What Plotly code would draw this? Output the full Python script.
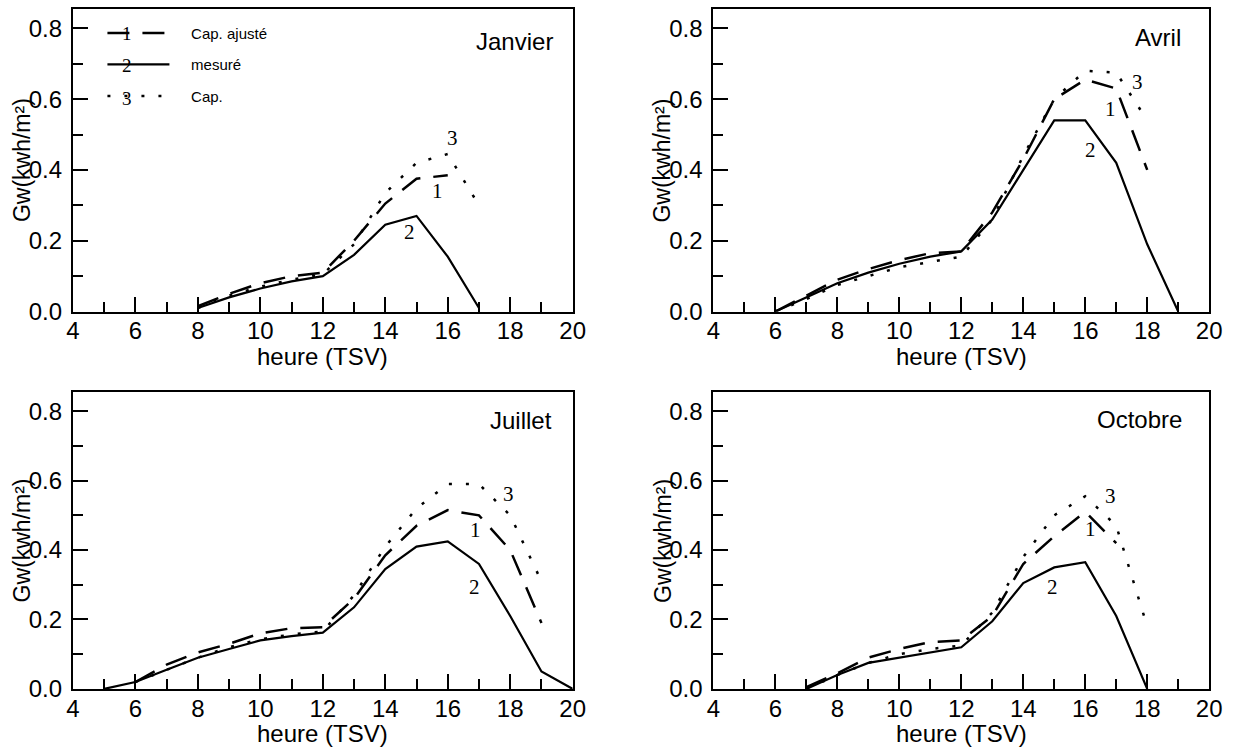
import plotly.graph_objects as go

# ---------------- data ----------------
# Janvier
jan_h_mes = [8, 9, 10, 11, 12, 13, 14, 15, 16, 17]
jan_mes = [0.01, 0.04, 0.065, 0.085, 0.10, 0.16, 0.245, 0.27, 0.155, 0.01]
jan_h_aj = [8, 9, 10, 11, 12, 13, 14, 15, 16]
jan_aj = [0.015, 0.05, 0.08, 0.10, 0.11, 0.20, 0.305, 0.375, 0.385]
jan_h_cap = [8, 9, 10, 11, 12, 13, 14, 15, 16, 17]
jan_cap = [0.01, 0.045, 0.07, 0.09, 0.105, 0.19, 0.335, 0.42, 0.445, 0.30]

# Avril
avr_h_mes = [6, 7, 8, 9, 10, 11, 12, 13, 14, 15, 16, 17, 18, 19]
avr_mes = [0.0, 0.04, 0.08, 0.11, 0.135, 0.155, 0.17, 0.26, 0.40, 0.54, 0.54, 0.42, 0.19, 0.0]
avr_h_aj = [6, 7, 8, 9, 10, 11, 12, 13, 14, 15, 16, 17, 18]
avr_aj = [0.0, 0.045, 0.09, 0.12, 0.145, 0.165, 0.17, 0.28, 0.43, 0.60, 0.655, 0.63, 0.40]
avr_h_cap = [6, 7, 8, 9, 10, 11, 12, 13, 14, 15, 16, 17, 18]
avr_cap = [0.0, 0.035, 0.075, 0.10, 0.125, 0.14, 0.155, 0.26, 0.44, 0.60, 0.68, 0.675, 0.54]

# Juillet
jul_h_mes = [5, 6, 7, 8, 9, 10, 11, 12, 13, 14, 15, 16, 17, 18, 19, 20]
jul_mes = [0.0, 0.02, 0.055, 0.09, 0.115, 0.14, 0.152, 0.162, 0.235, 0.345, 0.41, 0.425, 0.36, 0.21, 0.05, 0.0]
jul_h_aj = [6, 7, 8, 9, 10, 11, 12, 13, 14, 15, 16, 17, 18, 19]
jul_aj = [0.02, 0.07, 0.105, 0.13, 0.16, 0.175, 0.178, 0.26, 0.385, 0.47, 0.515, 0.50, 0.40, 0.19]
jul_h_cap = [6, 7, 8, 9, 10, 11, 12, 13, 14, 15, 16, 17, 18, 19]
jul_cap = [0.02, 0.055, 0.09, 0.12, 0.143, 0.157, 0.165, 0.27, 0.41, 0.52, 0.59, 0.59, 0.50, 0.31]

# Octobre
oct_h_mes = [7, 8, 9, 10, 11, 12, 13, 14, 15, 16, 17, 18]
oct_mes = [0.0, 0.04, 0.075, 0.09, 0.105, 0.12, 0.195, 0.305, 0.35, 0.365, 0.21, 0.0]
oct_h_aj = [7, 8, 9, 10, 11, 12, 13, 14, 15, 16, 17]
oct_aj = [0.005, 0.045, 0.09, 0.115, 0.135, 0.14, 0.21, 0.36, 0.44, 0.51, 0.42]
oct_h_cap = [7, 8, 9, 10, 11, 12, 13, 14, 15, 16, 17, 18]
oct_cap = [0.0, 0.04, 0.075, 0.10, 0.115, 0.125, 0.22, 0.38, 0.50, 0.555, 0.47, 0.18]

months = ["Janvier", "Avril", "Juillet", "Octobre"]
month_label_pos = [(19.43, 0.763), (19.17, 0.774), (19.4, 0.772), (19.19, 0.777)]
# curve number labels (x, y) for "1", "2", "3"
curve_label_pos = [
    {"1": (15.66, 0.34), "2": (14.78, 0.224), "3": (16.15, 0.49)},
    {"1": (16.82, 0.572), "2": (16.17, 0.457), "3": (17.67, 0.648)},
    {"1": (16.88, 0.458), "2": (16.86, 0.293), "3": (17.94, 0.561)},
    {"1": (16.17, 0.46), "2": (14.95, 0.293), "3": (16.82, 0.556)},
]
series_names = ["Cap. ajusté", "mesuré", "Cap."]
x_ticks = [4, 6, 8, 10, 12, 14, 16, 18, 20]

panels = [
    (jan_h_aj, jan_aj, jan_h_mes, jan_mes, jan_h_cap, jan_cap),
    (avr_h_aj, avr_aj, avr_h_mes, avr_mes, avr_h_cap, avr_cap),
    (jul_h_aj, jul_aj, jul_h_mes, jul_mes, jul_h_cap, jul_cap),
    (oct_h_aj, oct_aj, oct_h_mes, oct_mes, oct_h_cap, oct_cap),
]

# ---------------- layout geometry ----------------
W, H = 1235, 754
x_dom = [[67 / W, 575 / W], [718 / W, 1222 / W]]
y_dom = [[1 - 317 / H, 1 - 9 / H], [1 - 701 / H, 1 - 399 / H]]

SANS = "Liberation Sans, Arial, sans-serif"
SERIF = "Liberation Serif, Times New Roman, serif"

styles = [
    dict(color="black", width=2.5, dash="22px,13px"),
    dict(color="black", width=2.2),
    dict(color="black", width=2.5, dash="3px,14px"),
]

fig = go.Figure()
annotations = []

for i, data in enumerate(panels):
    ax = "" if i == 0 else str(i + 1)
    xr, yr = "x" + ax, "y" + ax
    pairs = [(data[0], data[1]), (data[2], data[3]), (data[4], data[5])]
    for k, (hx, vy) in enumerate(pairs):
        name = series_names[k]
        fig.add_trace(go.Scatter(
            x=hx, y=vy, mode="lines", line=styles[k],
            name=("\u00a0\u00a0\u00a0\u00a0" + name) if i == 0 else name,
            showlegend=(i == 0), legendgroup="g%d" % k,
            xaxis=xr, yaxis=yr, hoverinfo="skip",
        ))
    col, row = i % 2, i // 2
    axis_common = dict(
        showline=True, linewidth=2, linecolor="black", mirror=True,
        showgrid=False, zeroline=False, ticks="inside", tickwidth=2,
        tickcolor="black", ticklen=15,
        tickfont=dict(family=SANS, size=24, color="black"),
    )
    fig.update_layout(**{
        "xaxis" + ax: dict(
            domain=x_dom[col], anchor=yr, range=[4, 20],
            tickvals=x_ticks, ticklabelstandoff=-3,
            minor=dict(dtick=1, tick0=4, ticks="inside", ticklen=10,
                       tickwidth=2, tickcolor="black", showgrid=False),
            **axis_common),
        "yaxis" + ax: dict(
            domain=y_dom[row], anchor=xr, range=[0, 0.855],
            tick0=0, dtick=0.2, tickformat=".1f", ticklabelstandoff=4,
            minor=dict(dtick=0.1, tick0=0, ticks="inside", ticklen=10,
                       tickwidth=2, tickcolor="black", showgrid=False),
            **axis_common),
    })
    # axis titles
    annotations.append(dict(
        text="heure (TSV)", xref=xr + " domain", yref=yr + " domain",
        x=0.5, y=0, yshift=-45, showarrow=False, xanchor="center", yanchor="middle",
        font=dict(family=SANS, size=24, color="black")))
    annotations.append(dict(
        text="Gw(kwh/m²)", xref=xr + " domain", yref=yr + " domain",
        x=0, y=0.5, xshift=-51, showarrow=False, textangle=-90,
        xanchor="center", yanchor="middle",
        font=dict(family=SANS, size=23, color="black")))
    # month label
    mx, my = month_label_pos[i]
    annotations.append(dict(
        text=months[i], xref=xr, yref=yr, x=mx, y=my, showarrow=False,
        xanchor="right", yanchor="middle",
        font=dict(family=SANS, size=24, color="black")))
    # curve number labels
    for lab, (lx, ly) in curve_label_pos[i].items():
        annotations.append(dict(
            text=lab, xref=xr, yref=yr, x=lx, y=ly, showarrow=False,
            xanchor="center", yanchor="middle",
            font=dict(family=SERIF, size=21, color="black")))

# digits drawn over legend samples
legend_rows_px = [34, 67, 100]
for lab, ypx in zip(["1", "2", "3"], legend_rows_px):
    annotations.append(dict(
        text=lab, xref="paper", yref="paper", x=122 / W, y=1 - ypx / H,
        showarrow=False, xanchor="center", yanchor="middle",
        font=dict(family=SERIF, size=19, color="black")))

fig.update_layout(
    width=W, height=H, margin=dict(l=0, r=0, t=0, b=0),
    paper_bgcolor="white", plot_bgcolor="white",
    showlegend=True,
    legend=dict(
        x=97 / W, y=1 - 17 / H, xanchor="left", yanchor="top",
        bgcolor="rgba(0,0,0,0)", borderwidth=0, itemwidth=62,
        tracegroupgap=9, traceorder="grouped",
        font=dict(family=SANS, size=15, color="black"),
    ),
    annotations=annotations,
)

fig.write_html("out.html")
